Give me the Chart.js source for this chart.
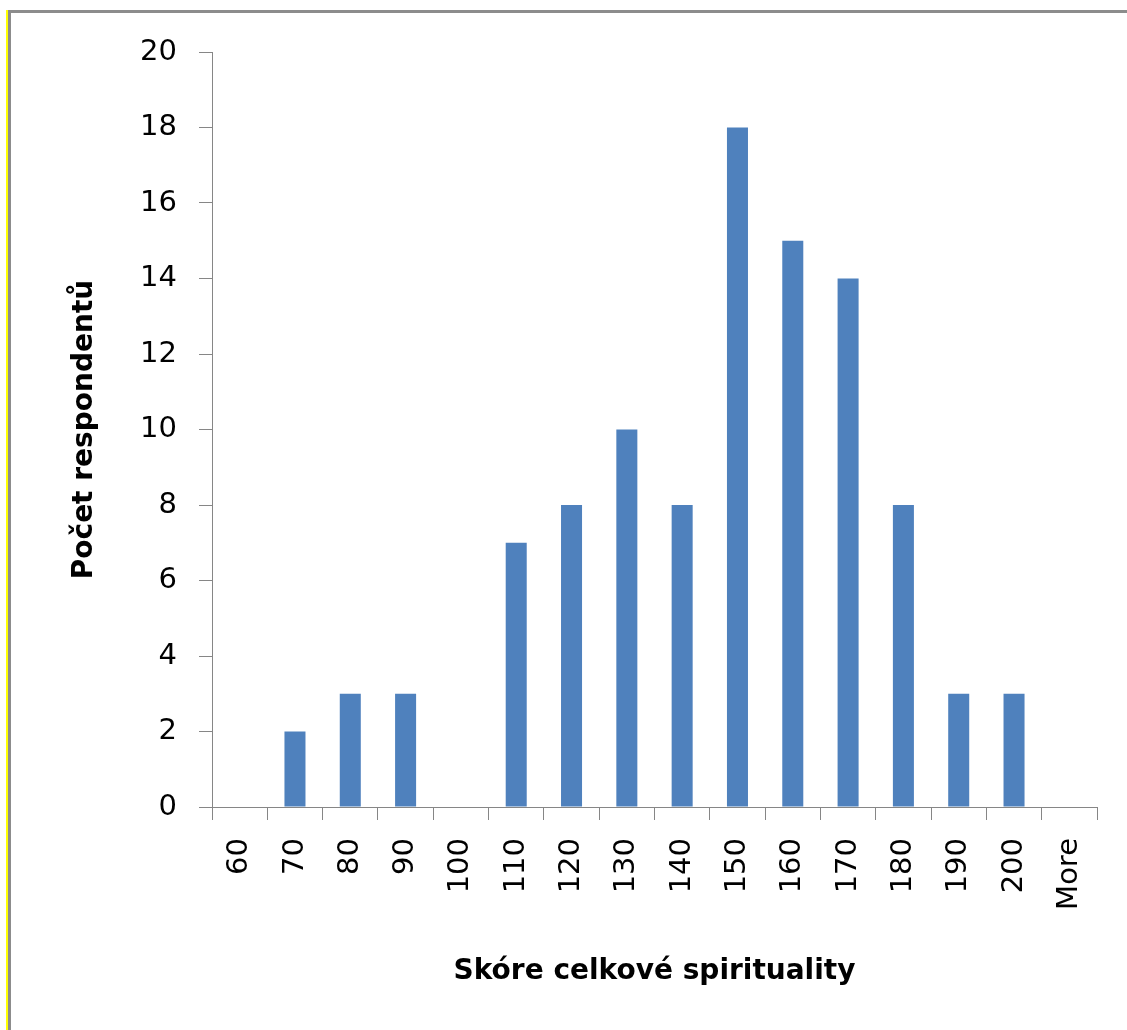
<!DOCTYPE html>
<html>
<head>
<meta charset="utf-8">
<script src="https://cdn.jsdelivr.net/npm/chart.js@4"></script>
<style>
  body { margin: 0; background: #fff; }
  #wrap { position: relative; width: 1127px; height: 1030px; }
  #frameTop { position: absolute; left: 8px; top: 10px; width: 1119px; height: 3px; background: #8c8c8c; }
  #frameLeftY { position: absolute; left: 6px; top: 10px; width: 2px; height: 1020px; background: #ffff00; }
  #frameLeftG { position: absolute; left: 8px; top: 10px; width: 3px; height: 1020px; background: #8c8c8c; }
  canvas { position: absolute; left: 0; top: 0; }
</style>
</head>
<body>
<div id="wrap">
  <canvas id="histogram" width="1127" height="1030"></canvas>
  <div id="frameTop"></div>
  <div id="frameLeftY"></div>
  <div id="frameLeftG"></div>
</div>
<script>
// bins and counts
const bins = ['60', '70', '80', '90', '100', '110', '120', '130', '140', '150', '160', '170', '180', '190', '200', 'More'];
const counts = [0, 2, 3, 3, 0, 7, 8, 10, 8, 18, 15, 14, 8, 3, 3, 0];
const yTicks = [0, 2, 4, 6, 8, 10, 12, 14, 16, 18, 20];

const axisGray = '#868686';
const tickFont = { family: 'DejaVu Sans', size: 29 };
const titleFont = { family: 'DejaVu Sans', size: 28, weight: 'bold' };

new Chart(document.getElementById('histogram'), {
    type: 'bar',
    data: {
        labels: bins,
        datasets: [{
            label: 'Počet respondentů',
            data: counts,
            backgroundColor: '#4f81bd',
            borderWidth: 0,
            categoryPercentage: 1,
            barPercentage: 0.38
        }]
    },
    options: {
        responsive: false,
        animation: false,
        layout: { padding: { top: 52, right: 30, bottom: 0, left: 0 } },
        plugins: {
            legend: { display: false },
            tooltip: { enabled: false }
        },
        scales: {
            x: {
                grid: { display: true, drawOnChartArea: false, tickLength: 13, color: axisGray, offset: true },
                border: { color: axisGray, width: 1 },
                ticks: { color: '#000', font: tickFont, minRotation: 90, maxRotation: 90, padding: 18, autoSkip: false },
                title: { display: true, text: 'Skóre celkové spirituality', color: '#000', font: titleFont, padding: { top: 0, bottom: 41 } },
                afterFit: (scale) => { scale.height = 223; }
            },
            y: {
                min: 0,
                max: 20,
                afterBuildTicks: (scale) => { scale.ticks = yTicks.map(v => ({ value: v })); },
                grid: { display: true, drawOnChartArea: false, tickLength: 13, color: axisGray },
                border: { color: axisGray, width: 1 },
                ticks: { color: '#000', font: tickFont, padding: 22 },
                title: { display: true, text: 'Počet respondentů', color: '#000', font: titleFont, padding: { top: 68, bottom: 0 } },
                afterFit: (scale) => { scale.width = 212; }
            }
        }
    }
});
</script>
</body>
</html>
